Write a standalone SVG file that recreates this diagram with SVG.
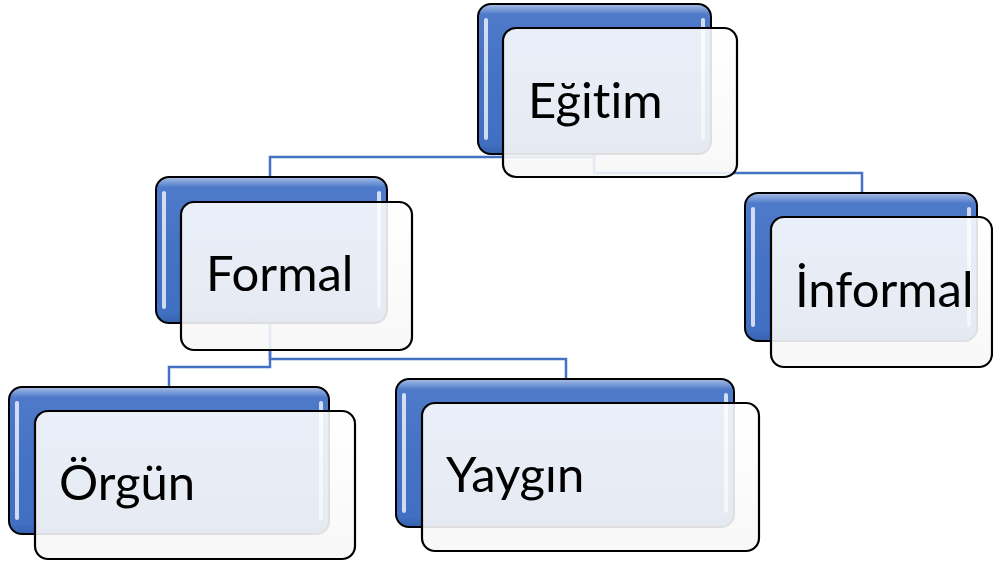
<svg xmlns="http://www.w3.org/2000/svg" width="993" height="563" viewBox="0 0 993 563">
  <defs>
    <linearGradient id="blueGrad" x1="0" y1="0" x2="0" y2="1">
      <stop offset="0" stop-color="#A9BFE6"/>
      <stop offset="0.07" stop-color="#4F7ACA"/>
      <stop offset="0.5" stop-color="#4472C4"/>
      <stop offset="0.93" stop-color="#4170C2"/>
      <stop offset="1" stop-color="#3560AE"/>
    </linearGradient>
    <linearGradient id="frontGrad" x1="0" y1="0" x2="0" y2="1">
      <stop offset="0" stop-color="#FFFFFF" stop-opacity="0.88"/>
      <stop offset="1" stop-color="#F7F7F7" stop-opacity="0.9"/>
    </linearGradient>
  </defs>
  <style>
    .back { fill: url(#blueGrad); stroke: #000000; stroke-width: 2; }
    .hl { fill: #FFFFFF; fill-opacity: 0.75; }
    .front { fill: url(#frontGrad); stroke: #000000; stroke-width: 2.2; }
    .conn { fill: none; stroke: #4472C4; stroke-width: 2.5; }
    .label { font-family: Lato, "Open Sans", "DejaVu Sans", sans-serif; font-size: 49px; fill: #000000; font-variant-ligatures: none; }
  </style>

  <g id="connectors">
    <path class="conn" d="M594,154 V157 H270 V177"/>
    <path class="conn" d="M594,154 V173 H862 V193"/>
    <path class="conn" d="M270,323 V359 H566 V379"/>
    <path class="conn" d="M270,323 V367 H169 V387"/>
  </g>

  <g id="node-egitim">
    <rect class="back" x="478" y="4" width="233" height="150" rx="13"/>
    <rect class="hl" x="484" y="18" width="4" height="122" rx="2"/>
    <rect class="hl" x="701" y="18" width="4" height="122" rx="2"/>
    <rect class="front" x="503" y="28" width="234" height="149" rx="13"/>
    <text class="label" x="528" y="118">Eğitim</text>
  </g>

  <g id="node-formal">
    <rect class="back" x="156" y="177" width="231" height="146" rx="13"/>
    <rect class="hl" x="162" y="191" width="4" height="118" rx="2"/>
    <rect class="hl" x="377" y="191" width="4" height="118" rx="2"/>
    <rect class="front" x="181" y="202" width="231" height="148" rx="13"/>
    <text class="label" x="206" y="291">Formal</text>
  </g>

  <g id="node-informal">
    <rect class="back" x="745" y="193" width="232" height="148" rx="13"/>
    <rect class="hl" x="751" y="207" width="4" height="120" rx="2"/>
    <rect class="hl" x="967" y="207" width="4" height="120" rx="2"/>
    <rect class="front" x="771" y="217" width="221" height="150" rx="13"/>
    <text class="label" x="795" y="307">İnformal</text>
  </g>

  <g id="node-orgun">
    <rect class="back" x="9" y="387" width="320" height="147" rx="13"/>
    <rect class="hl" x="15" y="401" width="4" height="119" rx="2"/>
    <rect class="hl" x="319" y="401" width="4" height="119" rx="2"/>
    <rect class="front" x="35" y="411" width="320" height="148" rx="13"/>
    <text class="label" x="59" y="500">Örgün</text>
  </g>

  <g id="node-yaygin">
    <rect class="back" x="396" y="379" width="338" height="148" rx="13"/>
    <rect class="hl" x="402" y="393" width="4" height="120" rx="2"/>
    <rect class="hl" x="724" y="393" width="4" height="120" rx="2"/>
    <rect class="front" x="422" y="403" width="337" height="148" rx="13"/>
    <text class="label" x="446" y="492">Yaygın</text>
  </g>
</svg>
